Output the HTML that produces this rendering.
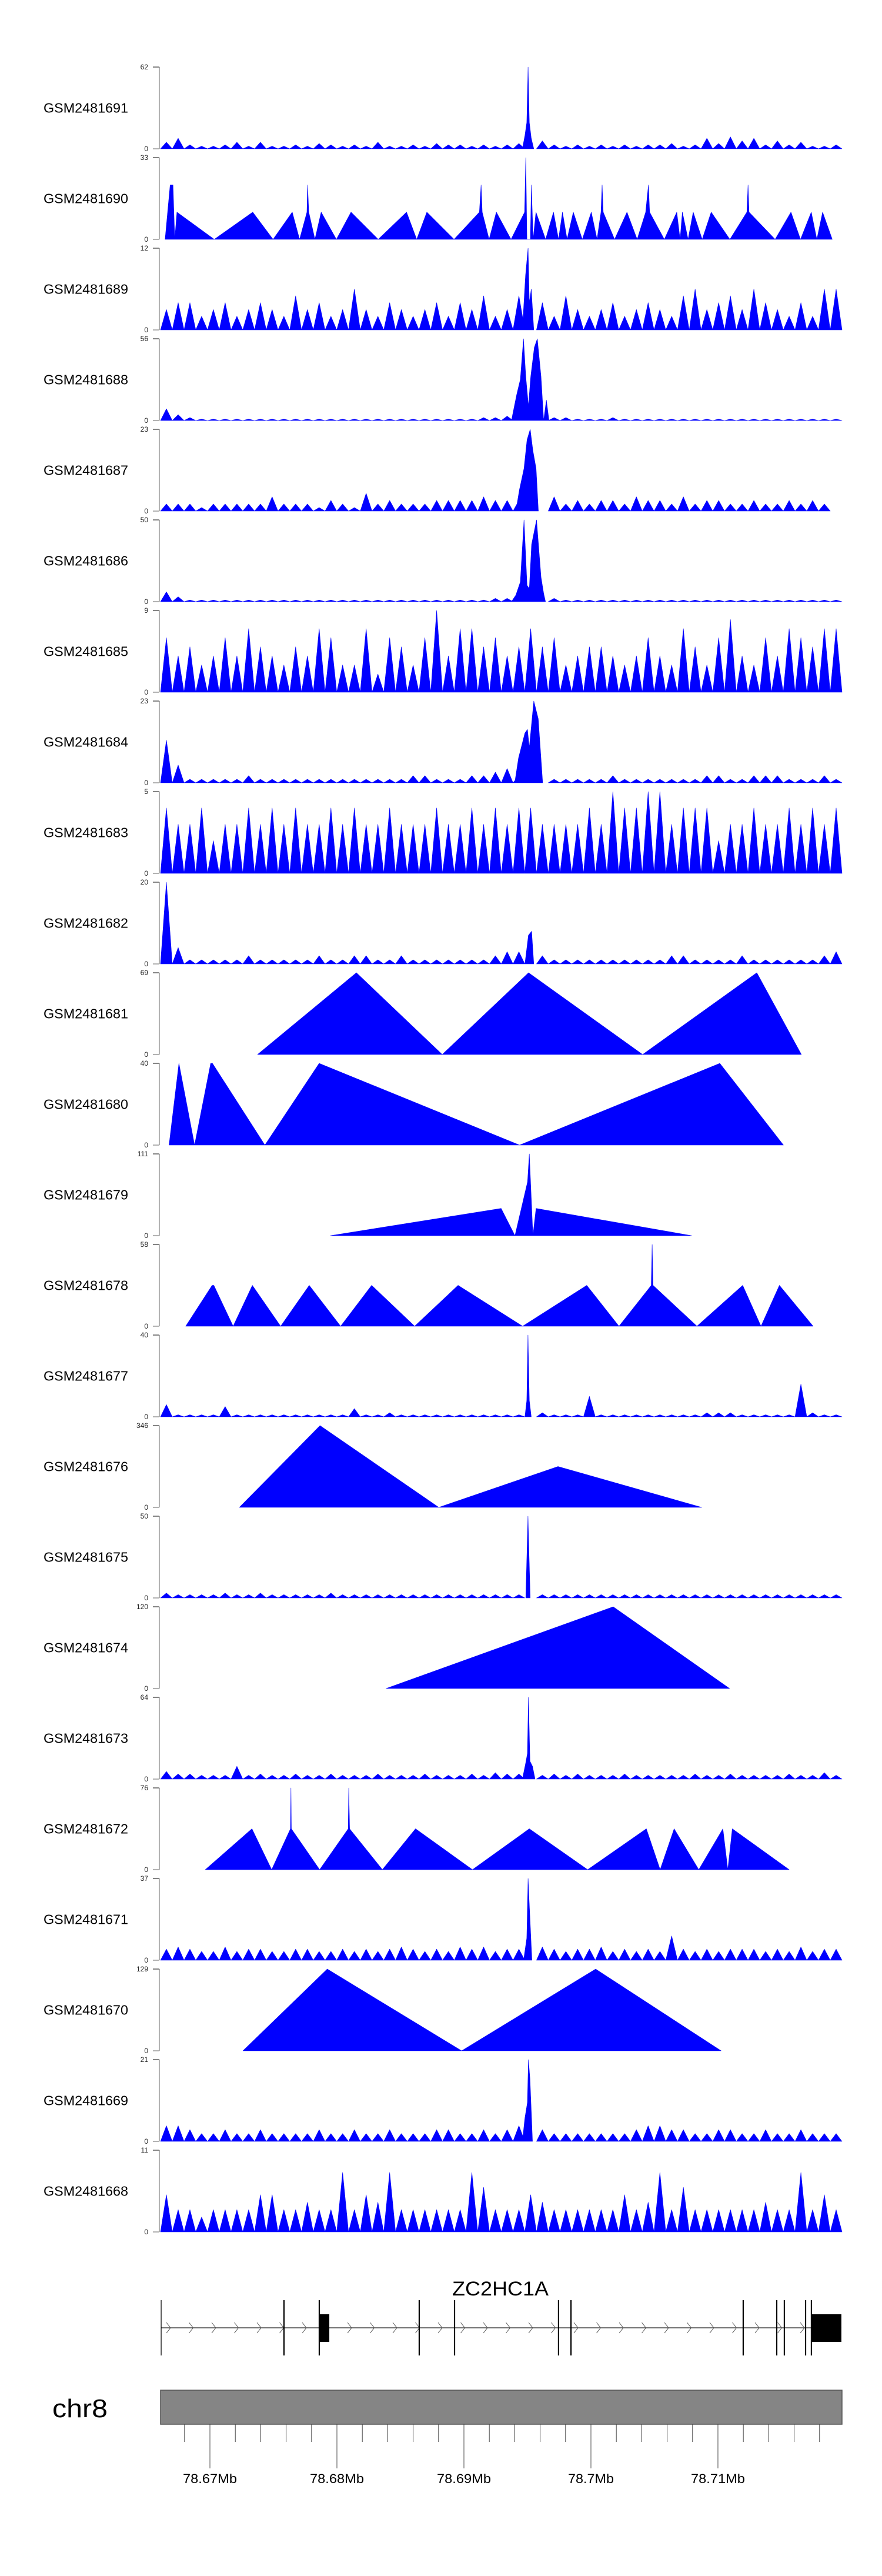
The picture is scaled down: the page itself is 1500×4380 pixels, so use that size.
<!DOCTYPE html>
<html><head><meta charset="utf-8"><style>
html,body{margin:0;padding:0;background:#fff}
svg{display:block}
text{font-family:"Liberation Sans",sans-serif}
</style></head><body>
<svg id="chart" width="1500" height="4380" viewBox="0 0 1500 4380" xmlns="http://www.w3.org/2000/svg"></svg>
<script>
// ---------------- data ----------------
const trackNames = ["GSM2481691","GSM2481690","GSM2481689","GSM2481688","GSM2481687","GSM2481686","GSM2481685","GSM2481684","GSM2481683","GSM2481682","GSM2481681","GSM2481680","GSM2481679","GSM2481678","GSM2481677","GSM2481676","GSM2481675","GSM2481674","GSM2481673","GSM2481672","GSM2481671","GSM2481670","GSM2481669","GSM2481668"];
const trackMax = [62,33,12,56,23,50,9,23,5,20,69,40,111,58,40,346,50,120,64,76,37,129,21,11];
// binned background coverage (58 bins across the region), null = none
const bins0 = [5,8,3,2,2,3,5,2,5,2,2,3,2,4,3,2,3,2,5,2,2,3,2,4,3,3,2,3,2,3,4,0,6,3,2,3,2,3,2,3,2,3,3,4,2,3,8,4,9,6,8,3,6,3,5,2,2,3];
const bins2 = [3,4,4,2,3,4,2,3,4,3,2,5,3,4,2,3,6,3,2,4,3,2,3,4,2,4,3,5,2,3,5,0,4,2,5,3,2,3,4,2,3,4,3,2,5,6,3,4,5,3,6,4,3,2,4,2,6,6];
const bins3 = [8,4,2,1,1,1,1,1,1,1,1,1,1,1,1,1,1,1,1,1,1,1,1,1,1,1,1,2,2,3,2,0,0,2,2,1,1,1,2,1,1,1,1,1,1,1,1,1,1,1,1,1,1,1,1,1,1,1];
const bins4 = [2,2,2,1,2,2,2,2,2,4,2,2,2,1,3,2,1,5,2,3,2,2,2,3,3,3,3,4,3,3,3,0,0,4,2,3,2,3,3,2,4,3,3,2,4,2,3,3,2,2,3,2,2,3,2,3,2,0];
const bins5 = [6,3,1,1,1,1,1,1,1,1,1,1,1,1,1,1,1,1,1,1,1,1,1,1,1,1,1,1,2,2,2,0,0,2,1,1,1,1,1,1,1,1,1,1,1,1,1,1,1,1,1,1,1,1,1,1,1,1];
const bins6 = [6,4,5,3,4,6,4,7,5,4,3,5,4,7,6,3,3,7,2,6,5,3,6,9,4,7,7,5,6,4,5,7,5,6,3,4,5,5,4,3,4,6,4,3,7,5,3,6,8,4,3,6,4,7,6,5,7,7];
const bins7 = [12,5,1,1,1,1,1,2,1,1,1,1,1,1,1,1,1,1,1,1,1,2,2,1,1,1,2,2,3,4,2,0,0,1,1,1,1,1,2,1,1,1,1,1,1,1,2,2,1,1,2,2,2,1,1,1,2,1];
const bins8 = [4,3,3,4,2,3,3,4,3,4,3,4,3,3,4,3,4,3,3,4,3,3,3,4,3,3,4,3,4,3,4,4,3,3,3,3,4,3,5,4,4,5,5,3,4,4,4,2,3,3,4,3,3,4,3,4,3,4];
const bins9 = [20,4,1,1,1,1,1,2,1,1,1,1,1,2,1,1,2,2,1,1,2,1,1,1,1,1,1,1,2,3,3,0,2,1,1,1,1,1,1,1,1,1,1,2,2,1,1,1,1,2,1,1,1,1,1,1,2,3];
const bins14 = [6,1,1,1,1,5,1,1,1,1,1,1,1,1,1,1,4,1,1,2,1,1,1,1,1,1,1,1,1,1,1,0,2,1,1,1,10,1,1,1,1,1,1,1,1,1,2,2,2,1,1,1,1,1,16,2,1,1];
const bins16 = [3,2,2,2,2,3,2,2,3,2,2,2,2,2,3,2,2,2,2,2,2,2,2,2,2,2,2,2,2,2,2,0,2,2,2,2,2,2,2,2,2,2,2,2,2,2,2,2,2,2,2,2,2,2,2,2,2,2];
const bins18 = [6,4,4,3,3,3,10,3,4,3,3,4,3,3,4,3,3,3,4,3,3,3,4,3,3,3,4,3,5,4,4,0,3,4,3,4,3,3,3,4,3,3,3,3,3,4,3,3,4,3,3,3,3,4,3,3,5,3];
const bins20 = [5,6,5,4,4,6,4,5,5,4,4,5,5,4,4,5,4,5,4,5,6,5,4,5,4,6,5,6,4,5,5,0,6,5,4,5,5,6,4,5,4,5,4,11,5,4,5,4,5,5,5,4,5,4,6,4,5,5];
const bins22 = [4,4,3,2,2,3,2,2,3,2,2,2,2,3,2,2,3,2,2,3,2,2,2,3,3,2,2,3,2,3,4,0,3,2,2,2,2,2,2,2,3,4,4,3,3,2,2,3,3,2,2,3,2,2,3,2,2,2];
const bins23 = [5,3,3,2,3,3,3,3,5,5,3,3,4,3,3,8,3,5,4,8,3,3,3,3,3,3,8,6,3,3,3,5,4,3,3,3,3,3,3,5,3,4,8,3,6,3,3,3,3,3,3,4,3,3,8,3,5,3];
const trackBins = [bins0,null,bins2,bins3,bins4,bins5,bins6,bins7,bins8,bins9,null,null,null,null,bins14,null,bins16,null,bins18,null,bins20,null,bins22,bins23];
// explicit vertices (positions in kb from 78.66 Mb, values in coverage)
const pos1 = [6.47,6.87,7.09,7.23,7.40,10.34,13.37,14.97,16.48,17.06,17.64,17.69,17.78,18.27,18.76,19.96,21.11,23.25,25.48,26.28,27.08,29.22,31.22,31.35,31.44,31.98,32.55,33.71,34.78,34.87,34.96,35.23,35.31,35.45,35.67,36.43,37.05,37.45,37.76,38.12,38.61,39.32,40.03,40.48,40.79,40.88,40.97,41.86,42.84,43.64,44.31,44.53,44.62,45.78,46.76,47.02,47.20,47.65,48.05,48.76,49.47,50.94,52.28,52.37,52.45,54.50,55.75,56.50,57.35,57.79,58.24,59.00];
const val1 = [0,22,22,0,11,0,11,0,11,0,11,22,11,0,11,0,11,0,11,0,11,0,11,22,11,0,11,0,11,33,0,0,22,0,11,0,11,0,11,0,11,0,11,0,11,22,11,0,11,0,11,22,11,0,11,0,11,0,11,0,11,0,11,22,11,0,11,0,11,0,11,0];
const pos0p = [34.6,34.8,34.95,35.05,35.15,35.3,35.5]; const val0p = [0,10,20,62,20,8,0];
const pos2p = [34.6,34.85,34.95,35.05,35.15,35.3,35.5]; const val2p = [0,8,10,12,4,6,0];
const pos3p = [33.74,34.16,34.44,34.69,34.87,35.08,35.26,35.54,35.78,36.07,36.28,36.49,36.70]; const val3p = [0,18,28,56,30,10,30,50,56,30,0,14,0];
const pos4p = [34.09,34.37,34.73,34.97,35.22,35.43,35.68,35.86]; const val4p = [0,6,12,20,23,17,12,0];
const pos5p = [33.74,34.09,34.44,34.73,34.97,35.15,35.33,35.72,36.07,36.28,36.42]; const val5p = [0,4,12,50,10,8,35,50,15,5,0];
const pos7p = [34.0,34.3,34.8,35.0,35.15,35.5,35.85,36.2]; const val7p = [0,7,14,15,10,23,18,0];
const pos9p = [34.8,35.08,35.33,35.5]; const val9p = [0,7,8,0];
const pos10 = [13.75,21.53,28.29,35.09,44.07,53.06,56.57]; const val10 = [0,69,0,69,0,69,0];
const pos11 = [6.78,7.56,8.79,10.06,10.20,14.33,18.60,34.38,50.15,55.16]; const val11 = [0,40,0,40,40,0,40,0,40,0];
const pos12 = [19.48,32.93,34.02,35.01,35.15,35.43,35.68,47.93]; const val12 = [0,37,0,73,111,0,37,0];
const pos13 = [8.09,10.17,10.31,11.83,13.34,15.57,17.82,20.29,22.73,26.12,29.54,34.62,39.67,42.21,44.75,44.82,44.89,48.35,51.95,53.39,54.84,57.49]; const val13 = [0,29,29,0,29,0,29,0,29,0,29,0,29,0,29,58,29,0,29,0,29,0];
const pos14p = [34.8,34.95,35.04,35.15,35.3]; const val14p = [0,8,40,8,0];
const pos15 = [12.32,18.67,28.02,37.41,48.73]; const val15 = [0,346,0,173,0];
const pos16p = [34.87,35.04,35.22]; const val16p = [0,50,0];
const pos17 = [23.86,41.75,50.92]; const val17 = [0,120,0];
const pos18p = [34.6,34.85,35.0,35.08,35.2,35.4,35.6]; const val18p = [0,12,20,64,14,10,0];
const pos19 = [9.64,13.31,14.86,16.34,16.38,16.41,18.64,20.89,20.93,21.0,23.58,26.19,30.67,35.15,39.74,44.36,45.45,46.55,48.49,50.39,50.78,51.13,55.61]; const val19 = [0,38,0,38,76,38,0,38,76,38,0,38,0,38,0,38,0,38,0,38,0,38,0];
const pos20p = [34.7,34.95,35.05,35.15,35.35]; const val20p = [0,10,37,25,0];
const pos21 = [12.6,19.24,29.82,40.37,50.25]; const val21 = [0,129,0,129,0];
const pos22p = [34.6,34.8,35.0,35.08,35.2,35.4]; const val22p = [0,6,10,21,16,0];
const trackPos = [pos0p,pos1,pos2p,pos3p,pos4p,pos5p,null,pos7p,null,pos9p,pos10,pos11,pos12,pos13,pos14p,pos15,pos16p,pos17,pos18p,pos19,pos20p,pos21,pos22p,null];
const trackVal = [val0p,val1,val2p,val3p,val4p,val5p,null,val7p,null,val9p,val10,val11,val12,val13,val14p,val15,val16p,val17,val18p,val19,val20p,val21,val22p,null];
// gene model (kb from 78.66 Mb)
const exonPos = [6.16,15.83,18.61,26.48,29.26,37.45,38.43,51.99,54.63,55.23,56.90,57.36];
const cdsStart = [18.61,57.36]; const cdsEnd = [19.40,59.72];
const axisTicks = [10,20,30,40,50];
const axisTickLabels = ["78.67Mb","78.68Mb","78.69Mb","78.7Mb","78.71Mb"];

// ---------------- scales ----------------
const KB0 = 6.11, KB1 = 59.77, X0 = 273, X1 = 1432;
function xs(kb){ return X0 + (kb-KB0)*(X1-X0)/(KB1-KB0); }
const TOP0 = 114, PITCH = 154, H = 139;
const NS = "http://www.w3.org/2000/svg";
const svg = document.getElementById('chart');
function mk(tag, attrs, parent){ const e=document.createElementNS(NS,tag); for(const k in attrs) e.setAttribute(k,attrs[k]); (parent||svg).appendChild(e); return e; }

trackNames.forEach((name,i)=>{
  const top = TOP0 + PITCH*i, base = top + H, mx = trackMax[i];
  const ys = v => base - v/mx*H;
  const g = mk('g',{});
  
  
  const lab = mk('text',{x:146,y:top+H/2+8,'text-anchor':'middle','font-size':23,textLength:144,lengthAdjust:'spacingAndGlyphs',fill:'#000'},g);
  lab.textContent = name;
  
  
  const ax = mk('line',{x1:271,y1:top,x2:271,y2:base,stroke:'#999','stroke-width':1.5},g);
  
  
  mk('line',{x1:260,y1:top,x2:271,y2:top,stroke:'#333','stroke-width':1.2},g);
  mk('line',{x1:260,y1:base,x2:271,y2:base,stroke:'#999','stroke-width':1.5},g);
  const t1 = mk('text',{x:252,y:top+4,'text-anchor':'end','font-size':12,fill:'#222'},g);
  t1.textContent = String(mx);
  
  
  const t0 = mk('text',{x:252,y:base+4,'text-anchor':'end','font-size':12,fill:'#222'},g);
  t0.textContent = '0';
  
  
  let d = '';
  const b = trackBins[i];
  if (b) {
    const w = (KB1-KB0)/b.length;
    b.forEach((v,k)=>{
      if (!v) return;
      const a = xs(KB0+k*w), c = xs(KB0+(k+0.5)*w), e = xs(KB0+(k+1)*w);
      d += `M${a.toFixed(1)},${base}L${c.toFixed(1)},${ys(v).toFixed(1)}L${e.toFixed(1)},${base}Z`;
    });
  }
  const p = trackPos[i], vv = trackVal[i];
  if (p) {
    d += `M${xs(p[0]).toFixed(1)},${base}`;
    p.forEach((kb,k)=>{ d += `L${xs(kb).toFixed(1)},${ys(vv[k]).toFixed(1)}`; });
    d += `L${xs(p[p.length-1]).toFixed(1)},${base}Z`;
  }
  const path = mk('path',{d:d,fill:'#0000ff',stroke:'#0000ff','stroke-width':0.6,'stroke-linejoin':'round'},g);
  
  
});

// gene track
const gg = mk('g',{});


const gl = mk('text',{x:851,y:3903,'text-anchor':'middle','font-size':34,textLength:164,lengthAdjust:'spacingAndGlyphs'},gg);
gl.textContent = 'ZC2HC1A';


mk('line',{x1:xs(exonPos[0]),y1:3958,x2:xs(cdsEnd[1]),y2:3958,stroke:'#444','stroke-width':1.5},gg);
for (let x=283; x<1380; x+=38.5) {
  mk('path',{d:`M${x.toFixed(1)},3949L${(x+7).toFixed(1)},3958L${x.toFixed(1)},3967`,fill:'none',stroke:'#555','stroke-width':1},gg);
}
exonPos.forEach((kb,k)=>{
  const ln = mk('line',{x1:xs(kb),y1:3911,x2:xs(kb),y2:4005,stroke:'#000','stroke-width':k==0?1.2:2.2},gg);
  
  
});
cdsStart.forEach((s,k)=>{
  const r = mk('rect',{x:xs(s),y:3935,width:xs(cdsEnd[k])-xs(s),height:47,fill:'#000'},gg);
  
  
});

// chromosome axis
const cg = mk('g',{});


const chr = mk('text',{x:136,y:4110,'text-anchor':'middle','font-size':44,textLength:94,lengthAdjust:'spacingAndGlyphs'},cg);
chr.textContent = 'chr8';


const bar = mk('rect',{x:273,y:4064,width:1159,height:58,fill:'#858585',stroke:'#555','stroke-width':1.5},cg);


for (let kb=8; kb<=58; kb+=2) {
  const major = axisTicks.indexOf(kb) >= 0;
  mk('line',{x1:xs(kb),y1:4122,x2:xs(kb),y2:major?4197:4152,stroke:'#444','stroke-width':1},cg);
}
axisTicks.forEach((kb,k)=>{
  const t = mk('text',{x:xs(kb),y:4222,'text-anchor':'middle','font-size':22,textLength:axisTickLabels[k].length>6?92:78,lengthAdjust:'spacingAndGlyphs'},cg);
  t.textContent = axisTickLabels[k];
  
  
});
</script>
</body></html>
